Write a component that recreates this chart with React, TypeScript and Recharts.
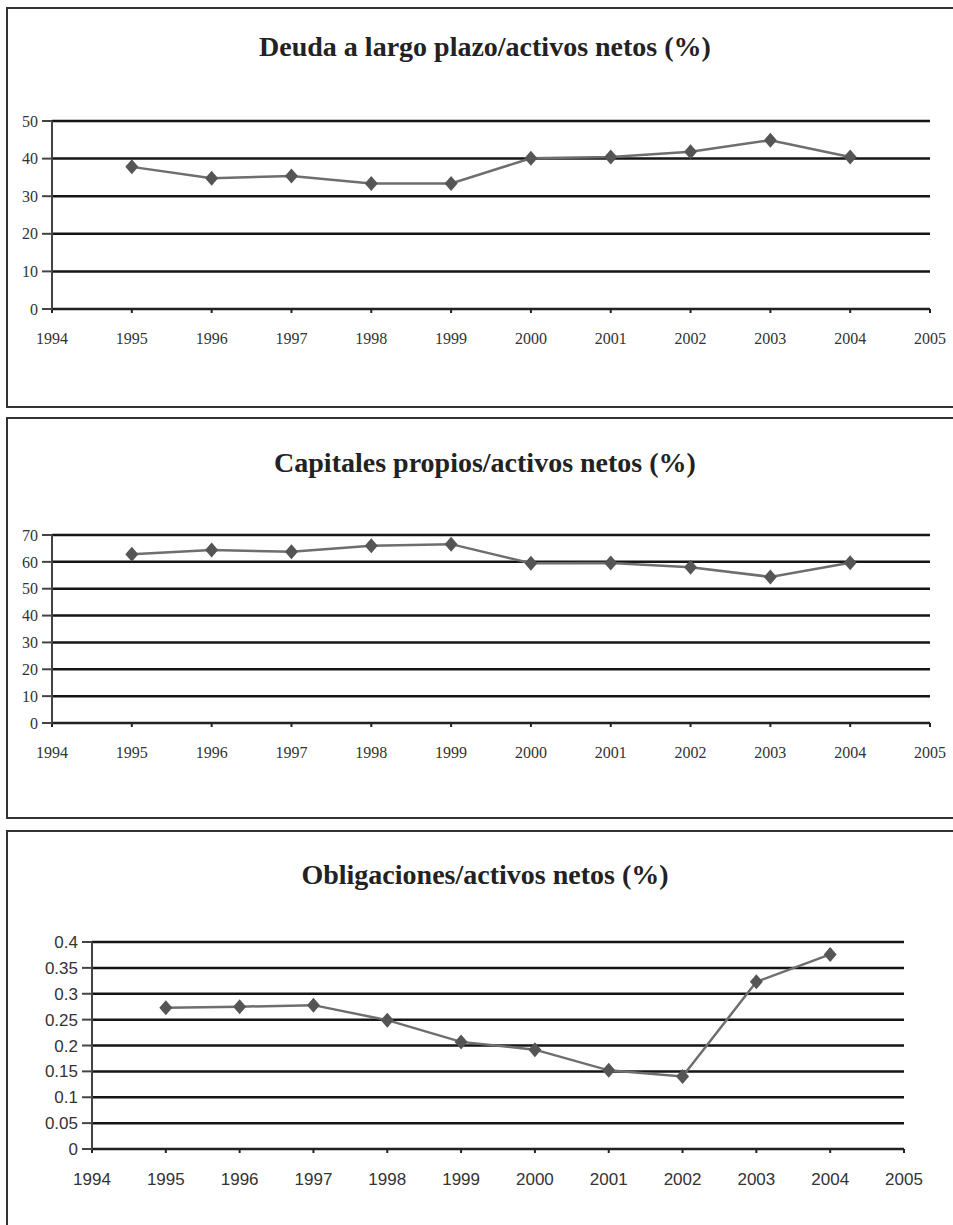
import React from "react";
import {
	LineChart,
	Line,
	XAxis,
	YAxis,
	CartesianGrid,
} from "recharts";

// años de las series y marcas del eje x
const years = [1995, 1996, 1997, 1998, 1999, 2000, 2001, 2002, 2003, 2004];
const xTicks = [1994, 1995, 1996, 1997, 1998, 1999, 2000, 2001, 2002, 2003, 2004, 2005];

const deuda = [37.8, 34.8, 35.4, 33.4, 33.4, 40.1, 40.4, 41.8, 44.9, 40.4];
const capitales = [62.8, 64.4, 63.8, 66.0, 66.6, 59.5, 59.6, 58.0, 54.4, 59.7];
const obligaciones = [0.273, 0.275, 0.278, 0.249, 0.207, 0.192, 0.152, 0.14, 0.323, 0.376];

const deudaTicks = [0, 10, 20, 30, 40, 50];
const capitalesTicks = [0, 10, 20, 30, 40, 50, 60, 70];
const obligacionesTicks = [0, 0.05, 0.1, 0.15, 0.2, 0.25, 0.3, 0.35, 0.4];

const toRows = (values: number[]) =>
	years.map((year, i) => ({ year, value: values[i] }));

const Diamond = (props: any) => {
	const { cx, cy, index } = props;
	if (cx == null || cy == null) return null;
	return (
		<path
			key={`d-${index}`}
			d={`M${cx},${cy - 7.5} L${cx + 6.5},${cy} L${cx},${cy + 7.5} L${cx - 6.5},${cy} Z`}
			fill="#555555"
		/>
	);
};

type PanelProps = {
	title: string;
	top: number;
	height: number;
	chartHeight: number;
	titleTop: number;
	titleSize: number;
	values: number[];
	yTicks: number[];
	yMax: number;
	margin: { top: number; right: number; bottom: number; left: number };
	yWidth: number;
	fontFamily: string;
	fontSize: number;
	bottomBorder: boolean;
};

const Panel = (p: PanelProps) => {
	const tickStyle = { fill: "#333333", fontFamily: p.fontFamily, fontSize: p.fontSize };
	return (
		<>
			<div
				style={{
					position: "absolute",
					left: 6,
					top: p.top,
					width: 980,
					height: p.height,
					boxSizing: "border-box",
					borderTop: "2px solid #333",
					borderLeft: "2px solid #333",
					borderBottom: p.bottomBorder ? "2px solid #333" : "none",
				}}
			/>
			<div
				style={{
					position: "absolute",
					left: 0,
					width: 970,
					top: p.titleTop,
					textAlign: "center",
					fontFamily: "'Liberation Serif', serif",
					fontWeight: "bold",
					fontSize: p.titleSize,
					color: "#222",
					lineHeight: 1,
				}}
			>
				{p.title}
			</div>
			<div style={{ position: "absolute", left: 0, top: p.top }}>
				<LineChart
					width={953}
					height={p.chartHeight}
					data={toRows(p.values)}
					margin={p.margin}
				>
					<CartesianGrid
						vertical={false}
						stroke="#151515"
						strokeWidth={2.5}
						strokeOpacity={1}
					/>
					<XAxis
						dataKey="year"
						type="number"
						domain={[1994, 2005]}
						ticks={xTicks}
						interval={0}
						height={40}
						stroke="#222"
						strokeWidth={2}
						tickSize={4}
						tickMargin={20}
						tick={tickStyle}
					/>
					<YAxis
						type="number"
						domain={[0, p.yMax]}
						ticks={p.yTicks}
						interval={0}
						width={p.yWidth}
						stroke="#444"
						strokeWidth={2}
						tickSize={10}
						tickMargin={4}
						tick={tickStyle}
					/>
					<Line
						type="linear"
						dataKey="value"
						stroke="#6e6e6e"
						strokeWidth={2.5}
						dot={Diamond}
						activeDot={false}
						isAnimationActive={false}
					/>
				</LineChart>
			</div>
		</>
	);
};

export default function App() {
	return (
		<div
			style={{
				position: "absolute",
				left: 0,
				top: 0,
				width: 953,
				height: 1225,
				overflow: "hidden",
				background: "#fff",
			}}
		>
			<Panel
				title="Deuda a largo plazo/activos netos (%)"
				top={7}
				height={401}
				chartHeight={401}
				titleTop={33}
				titleSize={28}
				values={deuda}
				yTicks={deudaTicks}
				yMax={50}
				margin={{ top: 114, right: 23, bottom: 59, left: 7 }}
				yWidth={45}
				fontFamily="'Liberation Serif', serif"
				fontSize={16}
				bottomBorder={true}
			/>
			<Panel
				title="Capitales propios/activos netos (%)"
				top={417}
				height={402}
				chartHeight={402}
				titleTop={449}
				titleSize={28}
				values={capitales}
				yTicks={capitalesTicks}
				yMax={70}
				margin={{ top: 118, right: 23, bottom: 56, left: 7 }}
				yWidth={45}
				fontFamily="'Liberation Serif', serif"
				fontSize={16}
				bottomBorder={true}
			/>
			<Panel
				title="Obligaciones/activos netos (%)"
				top={830}
				height={420}
				chartHeight={395}
				titleTop={861}
				titleSize={28}
				values={obligaciones}
				yTicks={obligacionesTicks}
				yMax={0.4}
				margin={{ top: 112, right: 49, bottom: 36, left: 32 }}
				yWidth={60}
				fontFamily="'Liberation Sans', Arial, sans-serif"
				fontSize={17}
				bottomBorder={false}
			/>
		</div>
	);
}
